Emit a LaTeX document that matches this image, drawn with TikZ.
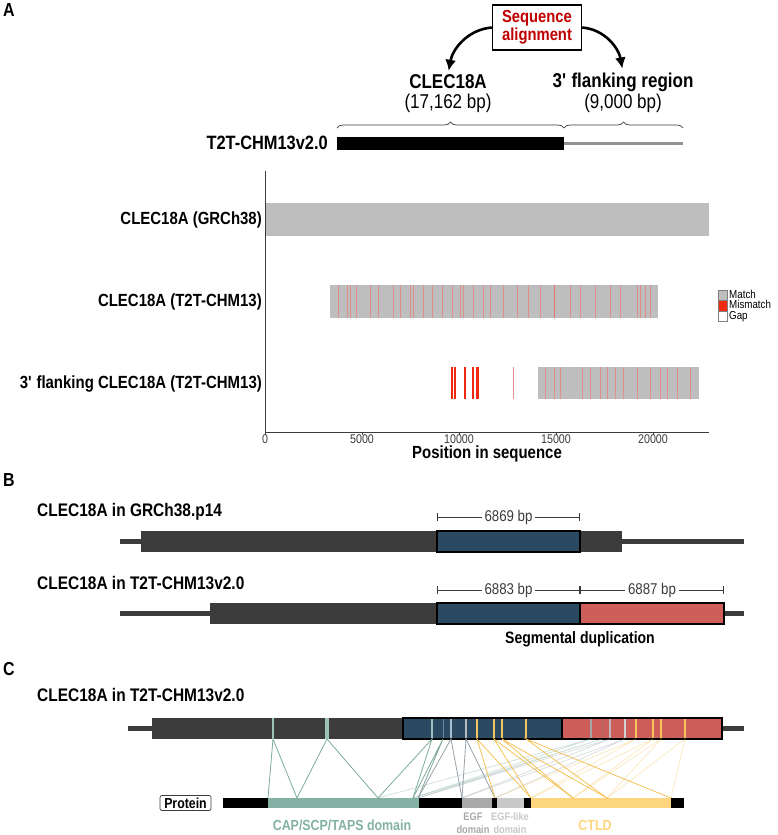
\documentclass[tikz,border=0pt]{standalone}
\usepackage{fontspec}
\setmainfont{Liberation Sans}[FakeStretch=0.85]
\usepackage{tikz}
\usetikzlibrary{arrows.meta, positioning, decorations.pathreplacing}

\definecolor{seqred}{HTML}{C00000}
\definecolor{matchgray}{HTML}{BEBEBE}
\definecolor{mmred}{HTML}{F02A10}
\definecolor{mmfaint}{HTML}{DE9088}
\definecolor{genedark}{HTML}{3C3C3C}
\definecolor{segblue}{HTML}{2B4A62}
\definecolor{segred}{HTML}{CD5E59}
\definecolor{tealc}{HTML}{84B1A4}
\definecolor{egfgray}{HTML}{A9A9A9}
\definecolor{egflike}{HTML}{C8C8C8}
\definecolor{ctld}{HTML}{FDD57F}
\definecolor{stripeyel}{HTML}{F4C55B}
\definecolor{stripeteal}{HTML}{9CC2BA}
\definecolor{stripeblue}{HTML}{A8BED0}
\definecolor{stripegray}{HTML}{B4BCC4}
\definecolor{tealline}{HTML}{7DAA9D}
\definecolor{grayline}{HTML}{97A2AA}
\definecolor{yelline}{HTML}{F2C257}

\begin{document}
\begin{tikzpicture}[
        x=1pt, y=-1pt,
        every node/.style={inner sep=0pt},
        panel/.style={font=\fontsize{18.8}{20}\selectfont\bfseries},
        title/.style={font=\fontsize{20}{22}\selectfont\bfseries},
        size/.style={font=\fontsize{20}{22}\selectfont},
        rowlabel/.style={anchor=east, font=\fontsize{17.6}{19}\selectfont\bfseries},
        genelabel/.style={anchor=west, font=\fontsize{18.2}{20}\selectfont\bfseries},
        small/.style={font=\fontsize{12.6}{13}\selectfont},
        legtext/.style={anchor=west, text height=7.5pt, text depth=1.5pt, font=\fontsize{11.5}{12}\selectfont},
        dim/.style={{Bar[width=8pt]}-{Bar[width=8pt]}, line width=0.9pt, draw=genedark},
        bp/.style={fill=white, inner xsep=3pt, font=\fontsize{15.6}{17}\selectfont, text=genedark},
        curvearrow/.style={-{Latex[length=11pt, width=11pt]}, line width=2.6pt},
        brace/.style={decorate, decoration={brace, amplitude=6pt}, line width=0.7pt, draw=genedark},
        exline/.style={line width=0.8pt},
        dupline/.style={line width=0.8pt, opacity=0.35}
    ]
    \useasboundingbox (0,0) rectangle (777,835);

    % Panel A: alignment scheme
    \node (labA) [panel] at (9,10) {A};
    \node (seqbox) [draw, line width=1.4pt, fill=white, minimum width=89, minimum height=45, align=center, text=seqred,
        font=\fontsize{17.4}{17.5}\selectfont\bfseries] at (537,27.5) {Sequence\\alignment};
    \node (clecname) [title] at (448,82) {CLEC18A};
    \node (clecsize) [size] at (448,103) {(17,162 bp)};
    \node (flankname) [title] at (623,82) {3\textquotesingle{} flanking region};
    \node (flanksize) [size] at (623,103) {(9,000 bp)};
    \node (t2tname) [rowlabel, font=\fontsize{19.3}{21}\selectfont\bfseries] at (328,143) {T2T-CHM13v2.0};

    \draw[curvearrow, shorten >=4pt] (seqbox.west) to[out=185, in=80] (clecname.north);
    \draw[curvearrow, shorten >=4pt] (seqbox.east) to[out=-5, in=100] (flankname.north);

    \draw[brace] (337,128) -- (564,128);
    \draw[brace] (564,128) -- (683,128);
    \fill[black] (337,137) rectangle (564,150);
    \draw[line width=3pt, gray!85] (564,143.5) -- (683,143.5);

    % Panel A: alignment plot
    \node (rowgrch) [rowlabel] at (262,220) {CLEC18A (GRCh38)};
    \node (rowt2t) [rowlabel] at (262,302) {CLEC18A (T2T-CHM13)};
    \node (rowflank) [rowlabel] at (262,384) {3\textquotesingle{} flanking CLEC18A (T2T-CHM13)};

    \fill[matchgray] (265,203) rectangle (709,236);
    \fill[matchgray] (330,285) rectangle (658,318);
    \foreach \mx in {338,347,350,356,370,378,393,400,410,413,423,432,442,452,460,463,473,483,490,503,517,528,540,570,580,595,610,620,637,640,645,650}
        \draw[mmfaint, line width=0.6pt] (\mx,285) -- (\mx,318);
    \draw[mmfaint!80!red, line width=1pt] (554,285) -- (554,318);

    \foreach \mx/\mw in {452/1.3, 455/1.3, 465/1.3, 473/1.3, 477.5/2.6}
        \draw[mmred, line width=\mw pt] (\mx,367) -- (\mx,399);
    \draw[mmfaint, line width=1pt] (513,367) -- (513,399);
    \fill[matchgray] (538,367) rectangle (699,399);
    \foreach \mx in {545,554,560,582,590,600,607,615,623,637,650,660,667,677,690}
        \draw[mmfaint, line width=0.6pt] (\mx,367) -- (\mx,399);

    \draw[genedark, line width=0.8pt] (265,171) -- (265,432) -- (709,432);
    \foreach \tv/\tx in {0/265, 5000/362, 10000/459, 15000/556, 20000/653} {
        \draw[genedark, line width=0.6pt] (\tx,432) -- (\tx,435);
        \node (tick\tv) [small, anchor=north, text=genedark] at (\tx,434.5) {\tv};
    }
    \node (xtitle) [font=\fontsize{17.6}{19}\selectfont\bfseries] at (487,454) {Position in sequence};

    % legend
    \draw[gray, line width=0.5pt, fill=matchgray] (718,290) rectangle (727,300.5);
    \draw[gray, line width=0.5pt, fill=mmred] (718,300.5) rectangle (727,311);
    \draw[gray, line width=0.5pt, fill=white] (718,311) rectangle (727,321.5);
    \node (legmatch) [legtext] at (729,295) {Match};
    \node (legmis) [legtext] at (729,305.5) {Mismatch};
    \node (leggap) [legtext] at (729,316) {Gap};

    % Panel B: segmental duplication
    \node (labB) [panel] at (9,480) {B};
    \node (grchname) [genelabel] at (37,512) {CLEC18A in GRCh38.p14};
    \draw[dim] (437,517) -- (580,517) node (bp6869) [midway, bp] {6869 bp};
    \draw[genedark, line width=5pt] (120,541.5) -- (744,541.5);
    \fill[genedark] (141,531) rectangle (622,552);
    \draw[fill=segblue, line width=1.5pt] (437,531) rectangle (580,552);

    \node (t2tgene) [genelabel] at (37,583) {CLEC18A in T2T-CHM13v2.0};
    \draw[dim] (437,590) -- (580,590) node (bp6883) [midway, bp] {6883 bp};
    \draw[dim] (580,590) -- (724,590) node (bp6887) [midway, bp] {6887 bp};
    \draw[genedark, line width=5pt] (120,613.5) -- (744,613.5);
    \fill[genedark] (210,603) rectangle (437,624);
    \draw[fill=segblue, line width=1.5pt] (437,603) rectangle (580,624);
    \draw[fill=segred, line width=1.5pt] (580,603) rectangle (724,624);
    \node (segdup) [font=\fontsize{16.5}{18}\selectfont\bfseries] at (580,639) {Segmental duplication};

    % Panel C: exons and protein domains
    \node (labC) [panel] at (9,669) {C};
    \node (t2tgeneC) [genelabel] at (37,695) {CLEC18A in T2T-CHM13v2.0};
    \draw[genedark, line width=5pt] (128,728.5) -- (744,728.5);
    \fill[genedark] (152,718) rectangle (403,739);
    \fill[segblue] (403,718) rectangle (562,739);
    \fill[segred] (562,718) rectangle (722,739);

    \draw[stripeteal, line width=1.5pt] (273,718) -- (273,739);
    \draw[stripeteal, line width=4pt] (327,718) -- (327,739);
    \foreach \g/\c/\w in {432/stripeteal/1.5, 443/stripeblue!50!segblue/1, 451/stripeblue/1.5, 466/stripegray/1.5, 477/stripeyel/1.5, 494/stripeyel/2, 502/stripeyel/1.5, 526/stripeyel/1.5}
        \draw[\c, line width=\w pt] (\g,718) -- (\g,739);
    \foreach \g/\c/\w in {432/gray!70/1.5, 443/segred!60!gray/1, 451/gray!55/1.5, 466/gray!35/1.5, 477/stripeyel/1.5, 494/stripeyel/2, 502/stripeyel/1.5, 526/stripeyel/1.5}
        \draw[\c, line width=\w pt] ({\g+159},718) -- ({\g+159},739);
    \draw[line width=1.5pt] (403,718) rectangle (722,739);
    \draw[line width=1.5pt] (562,718) -- (562,739);

    \node (protlabel) [draw=genedark, line width=0.7pt, rounded corners=2pt, minimum width=51, minimum height=15,
        font=\fontsize{14.5}{15}\selectfont\bfseries] at (185.5,803) {Protein};
    \foreach \a/\b/\c in {223/268/black, 268/419/tealc, 419/462/black, 462/492/egfgray, 492/497/black, 497/524/egflike, 524/531/black, 531/671/ctld, 671/684/black}
        \fill[\c] (\a,798) rectangle (\b,808);

    % exon to protein links
    \foreach \g/\p/\q/\c in {273/268/297/tealline, 327/297/378/tealline}
        \draw[exline, \c] (\p,798) -- (\g,739) -- (\q,798);
    \foreach \g/\p/\q/\c in {432/378/413/tealline, 443/413/418/tealline, 451/418/462/grayline, 466/462/495/grayline, 477/495/531/yelline, 494/531/573/yelline, 502/573/607/yelline, 526/607/671/yelline} {
        \draw[exline, \c] (\p,798) -- (\g,739) -- (\q,798);
        \draw[dupline, \c] (\p,798) -- ({\g+159},739) -- (\q,798);
    }

    \node (capname) [text=tealc, font=\fontsize{14.6}{16}\selectfont\bfseries] at (342,825) {CAP/SCP/TAPS domain};
    \node (egfname) [text=egfgray, align=center, font=\fontsize{10.9}{13}\selectfont\bfseries] at (473,823) {EGF\\domain};
    \node (egflikename) [text=egflike, align=center, font=\fontsize{10.9}{13}\selectfont\bfseries] at (510,823) {EGF-like\\domain};
    \node (ctldname) [text=ctld, font=\fontsize{14.7}{16}\selectfont\bfseries] at (595,825) {CTLD};

\end{tikzpicture}
\end{document}
